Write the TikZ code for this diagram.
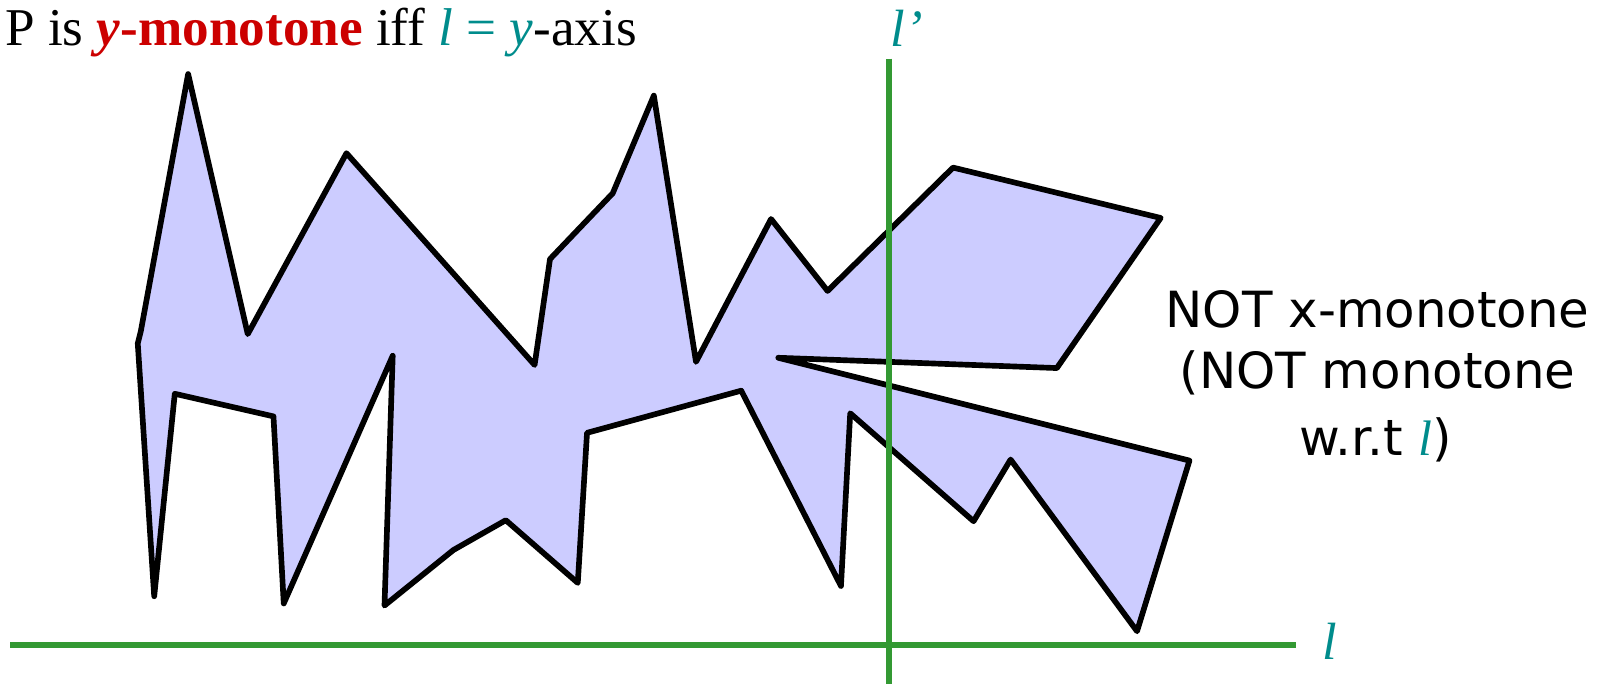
\documentclass[tikz,border=0pt]{standalone}
\usepackage{fontspec}
\setmainfont{Liberation Serif}
\newfontfamily\handfont{DejaVu Sans}
\definecolor{polyfill}{RGB}{204,204,255}
\definecolor{axisgreen}{RGB}{51,153,51}
\definecolor{tealc}{RGB}{0,140,140}
\definecolor{redc}{RGB}{204,0,0}
\tikzset{
  polyedge/.style={draw=black, fill=polyfill, line width=5.5pt, line join=round},
  axisline/.style={draw=axisgreen, line width=6pt},
  titletext/.style={inner sep=0pt, anchor=base west, font=\fontsize{51.7}{62}\selectfont},
  linelabel/.style={inner sep=0pt, anchor=base west, text=tealc, font=\fontsize{51}{60}\selectfont\itshape},
  handtext/.style={inner sep=0pt, anchor=base, font=\handfont\fontsize{48.5}{62}\selectfont}
}
\begin{document}
\begin{tikzpicture}[x=1pt,y=-1pt]
\useasboundingbox (0,0) rectangle (1568,665);
% polygon
\draw[polyedge] (183,72) -- (241,325) -- (337,149) -- (520,355) -- (535,252) -- (596,188)
  -- (636,93) -- (677,352) -- (750,213) -- (805,283) -- (927,163) -- (1129,212)
  -- (1028,358) -- (757,348) -- (1157,448) -- (1106,614) -- (983,447) -- (947,507)
  -- (827,402) -- (818,570) -- (721,380) -- (571,421) -- (562,567) -- (492,506)
  -- (441,535) -- (374,589) -- (382,346) -- (276,587) -- (266,405) -- (170,383)
  -- (150,580) -- (134,334) -- (137,322) -- cycle;
% lines l and l'
\coordinate (lstart) at (10,627);
\coordinate (lend) at (1261,627);
\coordinate (vtop) at (864.5,57);
\coordinate (vbot) at (864.5,665);
\draw[axisline] (lstart) -- (lend);
\draw[axisline] (vtop) -- (vbot);
% labels
\node[titletext] (title) at (5,44) {P is \textcolor{redc}{\textbf{\textit{y}}\textbf{-monotone}} iff \textcolor{tealc}{\textit{l} = \textit{y}}-axis};
\node[linelabel] (lprime) at (866,45) {l’};
\node[linelabel] (lbottom) at (1286,641) {l};
\node[handtext] (notx1) at (1340,319) {NOT x-monotone};
\node[handtext] (notx2) at (1340,378) {(NOT monotone};
\node[handtext] (notx3) at (1338,443) {w.r.t {\rmfamily\itshape\color{tealc}l})};
\end{tikzpicture}
\end{document}
